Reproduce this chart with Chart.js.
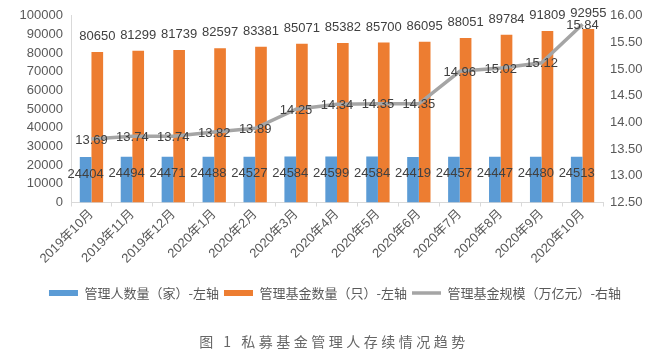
<!DOCTYPE html>
<html>
<head>
<meta charset="utf-8">
<script src="https://cdn.jsdelivr.net/npm/chart.js@4/dist/chart.umd.min.js"></script>
<style>
  html, body { margin: 0; padding: 0; background: #ffffff; }
  #wrap { width: 649px; height: 352px; position: relative; }
</style>
</head>
<body>
<div id="wrap"><canvas id="c" width="649" height="352"></canvas></div>
<script>
const categories = ["2019年10月", "2019年11月", "2019年12月", "2020年1月", "2020年2月", "2020年3月", "2020年4月", "2020年5月", "2020年6月", "2020年7月", "2020年8月", "2020年9月", "2020年10月"];
const managerCounts = [24404, 24494, 24471, 24488, 24527, 24584, 24599, 24584, 24419, 24457, 24447, 24480, 24513];
const fundCounts = [80650, 81299, 81739, 82597, 83381, 85071, 85382, 85700, 86095, 88051, 89784, 91809, 92955];
const fundScale = [13.69, 13.74, 13.74, 13.82, 13.89, 14.25, 14.34, 14.35, 14.35, 14.96, 15.02, 15.12, 15.84];
const seriesNames = ["管理人数量（家）-左轴", "管理基金数量（只）-左轴", "管理基金规模（万亿元）-右轴"];
const leftAxisRange = [0, 100000, 10000];
const rightAxisRange = [12.5, 16, 0.5];
const figureTitle = "图 1 私募基金管理人存续情况趋势";

const LATIN = "'Liberation Sans', 'Noto Sans CJK SC', sans-serif";
const CJK = "'Noto Sans CJK SC', 'Liberation Sans', sans-serif";

const dataLabelPlugin = {
  id: 'dataLabels',
  afterDatasetsDraw(chart) {
    const ctx = chart.ctx;
    ctx.save();
    ctx.font = "13px " + LATIN;
    ctx.fillStyle = '#404040';
    ctx.textAlign = 'center';
    ctx.textBaseline = 'middle';
    const m0 = chart.getDatasetMeta(0);
    m0.data.forEach((el, i) => {
      ctx.fillText(String(managerCounts[i]), el.x, el.y + 17);
    });
    const m1 = chart.getDatasetMeta(1);
    m1.data.forEach((el, i) => {
      ctx.fillText(String(fundCounts[i]), el.x, el.y - 15.5);
    });
    const m2 = chart.getDatasetMeta(2);
    m2.data.forEach((el, i) => {
      ctx.fillText(fundScale[i].toFixed(2), el.x, el.y + 1);
    });
    ctx.restore();
  }
};

const legendShiftPlugin = {
  id: 'legendShift',
  afterLayout(chart) {
    if (chart.legend) {
      chart.legend.left += 10.5;
      chart.legend.right += 10.5;
    }
  }
};

const figureTitlePlugin = {
  id: 'figureTitle',
  afterDraw(chart) {
    const ctx = chart.ctx;
    ctx.save();
    ctx.font = "14px " + CJK;
    ctx.fillStyle = '#666666';
    ctx.textAlign = 'left';
    ctx.textBaseline = 'middle';
    try { ctx.letterSpacing = '3.5px'; } catch (e) {}
    const w = ctx.measureText(figureTitle).width;
    ctx.fillText(figureTitle, 334 - w / 2, 342);
    ctx.restore();
  }
};

new Chart(document.getElementById('c'), {
  data: {
    labels: categories,
    datasets: [
      {
        type: 'bar',
        label: seriesNames[0],
        data: managerCounts,
        backgroundColor: '#5B9BD5',
        borderWidth: 0,
        pointStyle: 'rect',
        yAxisID: 'y',
        categoryPercentage: 0.57,
        barPercentage: 1.0,
        order: 2
      },
      {
        type: 'bar',
        label: seriesNames[1],
        data: fundCounts,
        backgroundColor: '#ED7D31',
        borderWidth: 0,
        pointStyle: 'rect',
        yAxisID: 'y',
        categoryPercentage: 0.57,
        barPercentage: 1.0,
        order: 2
      },
      {
        type: 'line',
        label: seriesNames[2],
        data: fundScale,
        borderColor: '#A5A5A5',
        backgroundColor: '#A5A5A5',
        borderWidth: 3.5,
        pointRadius: 0,
        pointStyle: 'line',
        tension: 0,
        yAxisID: 'y1',
        order: 1
      }
    ]
  },
  options: {
    responsive: false,
    animation: false,
    layout: { padding: { left: 0, right: 0, top: 10, bottom: 42.5 } },
    plugins: {
      legend: {
        position: 'bottom',
        labels: {
          usePointStyle: true,
          pointStyleWidth: 29,
          boxHeight: 6,
          padding: 5,
          color: '#595959',
          font: { size: 13, family: CJK },
          sort: (a, b) => a.datasetIndex - b.datasetIndex
        }
      },
      title: { display: false },
      tooltip: { enabled: false }
    },
    scales: {
      x: {
        offset: true,
        grid: {
          display: true,
          offset: true,
          drawOnChartArea: false,
          drawTicks: true,
          tickLength: 4,
          color: '#d9d9d9'
        },
        border: { display: true, color: '#d9d9d9', width: 1 },
        ticks: {
          autoSkip: false,
          minRotation: 45,
          maxRotation: 45,
          padding: 0,
          color: '#595959',
          font: { size: 13, family: LATIN }
        },
        afterFit(scale) { scale.height = 79; }
      },
      y: {
        position: 'left',
        min: leftAxisRange[0],
        max: leftAxisRange[1],
        grid: { display: false, drawTicks: false },
        border: { display: true, color: '#d9d9d9', width: 1 },
        ticks: {
          stepSize: leftAxisRange[2],
          padding: 8,
          color: '#595959',
          font: { size: 13, family: LATIN },
          callback: (v) => String(v)
        },
        afterFit(scale) { scale.width = 71; }
      },
      y1: {
        position: 'right',
        min: rightAxisRange[0],
        max: rightAxisRange[1],
        grid: { display: false, drawTicks: false },
        border: { display: false },
        ticks: {
          stepSize: rightAxisRange[2],
          padding: 7,
          color: '#595959',
          font: { size: 13, family: LATIN },
          callback: (v) => Number(v).toFixed(2)
        },
        afterFit(scale) { scale.width = 46; }
      }
    }
  },
  plugins: [dataLabelPlugin, legendShiftPlugin, figureTitlePlugin]
});
</script>
</body>
</html>
